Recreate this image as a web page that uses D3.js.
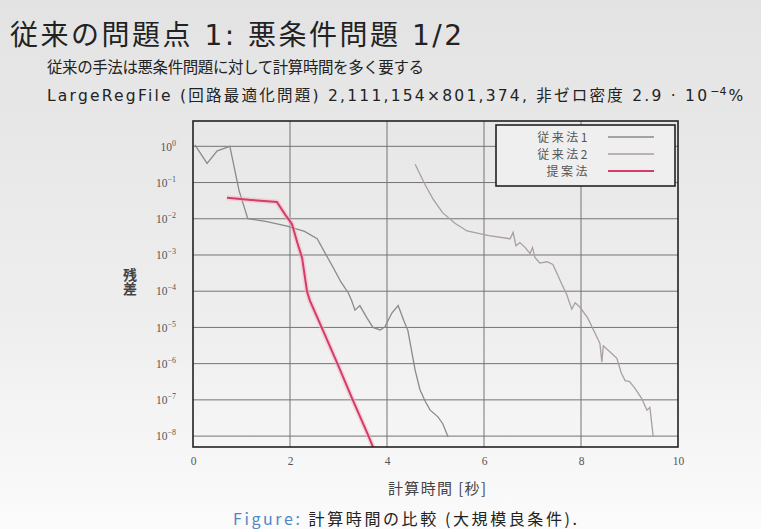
<!DOCTYPE html>
<html lang="ja">
<head>
<meta charset="UTF-8">
<script src="https://d3js.org/d3.v7.min.js"></script>
<title>悪条件問題</title>
<style>
  html, body { margin: 0; padding: 0; }
  body { width: 761px; height: 529px; overflow: hidden; }
  text { font-family: "Noto Sans CJK JP", "Noto Sans", sans-serif; }
  .wide { font-family: "DejaVu Sans", "Noto Sans CJK JP", sans-serif; }
</style>
</head>
<body>
<script>
// series data: [time (s), residual]
var conv1 = [[0.04, 1.1], [0.29, 0.34], [0.5, 0.75], [0.76, 1.0], [0.95, 0.06], [1.13, 0.01],
  [1.5, 0.0085], [1.94, 0.0063], [2.3, 0.0045], [2.56, 0.0028], [2.89, 0.00045], [3.05, 0.00018],
  [3.2, 0.000091], [3.27, 0.000055], [3.34, 0.00003], [3.44, 0.00004], [3.58, 0.000019],
  [3.71, 0.00001], [3.86, 0.0000085], [3.96, 0.0000105], [4.1, 0.000025], [4.23, 0.00004],
  [4.35, 0.000015], [4.43, 0.0000083], [4.58, 0.00000066], [4.68, 0.00000019],
  [4.79, 0.00000009], [4.89, 0.000000052], [5.05, 0.000000034], [5.15, 0.000000022],
  [5.26, 0.0000000095]];
var conv2 = [[4.58, 0.32], [4.78, 0.09], [4.95, 0.035], [5.15, 0.0145], [5.4, 0.0075],
  [5.65, 0.0046], [6.1, 0.0034], [6.54, 0.0028], [6.6, 0.0042], [6.66, 0.0018], [6.74, 0.0022],
  [6.85, 0.0016], [6.95, 0.0011], [7.0, 0.0016], [7.05, 0.00085], [7.15, 0.0006], [7.3, 0.00065],
  [7.42, 0.00055], [7.52, 0.00028], [7.6, 0.00016], [7.7, 0.000085], [7.81, 0.000032],
  [7.88, 0.000048], [7.98, 0.000036], [8.14, 0.000018], [8.3, 0.0000065], [8.39, 0.0000036],
  [8.43, 0.0000011], [8.46, 0.0000031], [8.6, 0.0000021], [8.74, 0.0000014],
  [8.83, 0.00000055], [8.91, 0.00000034], [9.0, 0.00000032], [9.11, 0.00000021],
  [9.25, 0.00000011], [9.36, 0.000000052], [9.42, 0.000000062], [9.49, 0.0000000095]];
var proposed = [[0.7, 0.038], [1.2, 0.033], [1.73, 0.029], [1.9, 0.013], [2.04, 0.0072],
  [2.15, 0.0022], [2.25, 0.00083], [2.35, 0.0001], [2.41, 0.000055], [2.7, 0.0000072],
  [3.0, 0.00000085], [3.3, 0.000000095], [3.6, 0.0000000115], [3.82, 0.0000000022]];

var seriesNames = ["従来法1", "従来法2", "提案法"];
var xTicks = [0, 2, 4, 6, 8, 10];
var yTicks = [1, 1e-1, 1e-2, 1e-3, 1e-4, 1e-5, 1e-6, 1e-7, 1e-8];
var yTickLabels = ["0", "−1", "−2", "−3", "−4", "−5", "−6", "−7", "−8"];

var width = 761, height = 529;
var plot = { left: 193, right: 678, top: 121, bottom: 447 };

var svg = d3.select("body").append("svg")
  .attr("width", width).attr("height", height);

var defs = svg.append("defs");
var grad = defs.append("linearGradient").attr("id", "bg")
  .attr("x1", 0).attr("y1", 0).attr("x2", 0).attr("y2", 1);
grad.append("stop").attr("offset", "0%").attr("stop-color", "#e3e3e3");
grad.append("stop").attr("offset", "60%").attr("stop-color", "#eeeeee");
grad.append("stop").attr("offset", "100%").attr("stop-color", "#fbfbfb");
svg.append("rect").attr("width", width).attr("height", height).attr("fill", "url(#bg)");

defs.append("clipPath").attr("id", "clip").append("rect")
  .attr("x", plot.left).attr("y", plot.top)
  .attr("width", plot.right - plot.left).attr("height", plot.bottom - plot.top);

// title block
svg.append("text").attr("class", "wide").attr("x", 10).attr("y", 45)
  .attr("font-size", 28).attr("fill", "#222")
  .attr("textLength", 452).attr("lengthAdjust", "spacing")
  .text("従来の問題点 1: 悪条件問題 1/2");
svg.append("text").attr("x", 47).attr("y", 73)
  .attr("font-size", 15.5).attr("fill", "#222")
  .attr("textLength", 377).attr("lengthAdjust", "spacing")
  .text("従来の手法は悪条件問題に対して計算時間を多く要する");
var line3 = svg.append("text").attr("class", "wide").attr("x", 47).attr("y", 101)
  .attr("font-size", 15.5).attr("fill", "#222");
line3.append("tspan").attr("textLength", 660).attr("lengthAdjust", "spacing")
  .text("LargeRegFile (回路最適化問題) 2,111,154×801,374, 非ゼロ密度 2.9 · 10");
line3.append("tspan").attr("dy", -6).attr("font-size", 11).attr("dx", 1).text("−4");
line3.append("tspan").attr("dy", 6).attr("dx", 2).text("%");

var x = d3.scaleLinear().domain([0, 10]).range([plot.left, plot.right]);
var y = d3.scaleLog().domain([5e-9, 5]).range([plot.bottom, plot.top]);

// grid
var g = svg.append("g");
g.selectAll(".gx").data(xTicks.slice(1, -1)).enter().append("line")
  .attr("x1", d => x(d)).attr("x2", d => x(d))
  .attr("y1", plot.top).attr("y2", plot.bottom)
  .attr("stroke", "#747474").attr("stroke-width", 1);
g.selectAll(".gy").data(yTicks).enter().append("line")
  .attr("x1", plot.left).attr("x2", plot.right)
  .attr("y1", d => y(d)).attr("y2", d => y(d))
  .attr("stroke", "#747474").attr("stroke-width", 1);

// axes labels via d3 axes
var xAxis = svg.append("g").attr("transform", "translate(0," + plot.bottom + ")")
  .call(d3.axisBottom(x).tickValues(xTicks).tickSize(0).tickPadding(10).tickFormat(d3.format("d")));
xAxis.select(".domain").remove();
xAxis.selectAll("text").attr("font-size", 11.5).attr("fill", "#555")
  .style("font-family", "'Liberation Serif', serif");

var yAxis = svg.append("g").attr("transform", "translate(" + plot.left + ",0)")
  .call(d3.axisLeft(y).tickValues(yTicks).tickSize(0).tickPadding(17).tickFormat(""));
yAxis.select(".domain").remove();
yAxis.selectAll(".tick").each(function (d, i) {
  var t = d3.select(this).select("text").text(null)
    .attr("font-size", 11.5).attr("fill", "#555")
    .style("font-family", "'Liberation Serif', serif");
  t.append("tspan").text("10");
  t.append("tspan").attr("dy", -5).attr("font-size", 8).text(yTickLabels[i]);
});

// series
var line = d3.line().x(d => x(d[0])).y(d => y(d[1]));
var lines = svg.append("g").attr("clip-path", "url(#clip)");
var colors = ["#8a8a8a", "#ab9ea2", "#d43d68"];
var widths = [1.3, 1.3, 2];
[conv1, conv2, proposed].forEach(function (s, i) {
  if (i == 2) {
    lines.append("path").attr("d", line(s)).attr("fill", "none")
      .attr("stroke", "#f4b4c6").attr("stroke-width", 5).attr("opacity", 0.5);
  }
  lines.append("path").attr("d", line(s)).attr("fill", "none")
    .attr("stroke", colors[i]).attr("stroke-width", widths[i]);
});

// border
svg.append("rect").attr("x", plot.left).attr("y", plot.top)
  .attr("width", plot.right - plot.left).attr("height", plot.bottom - plot.top)
  .attr("fill", "none").attr("stroke", "#222").attr("stroke-width", 1.6);

// legend
var lg = svg.append("g").attr("transform", "translate(496,125)");
lg.append("rect").attr("width", 179).attr("height", 61)
  .attr("fill", "#efefef").attr("stroke", "#222").attr("stroke-width", 1.6);
var items = lg.selectAll(".lg").data(seriesNames).enter().append("g")
  .attr("transform", (d, i) => "translate(0," + (12 + i * 17) + ")");
items.append("text").attr("x", 94).attr("y", 4.5).attr("text-anchor", "end")
  .attr("font-size", 12).attr("letter-spacing", 2.5).attr("fill", "#555").text(d => d);
items.append("line").attr("x1", 112).attr("x2", 158)
  .attr("stroke", (d, i) => colors[i]).attr("stroke-width", (d, i) => widths[i]);

// axis titles
svg.append("text").attr("x", 130).attr("y", 268)
  .attr("writing-mode", "vertical-rl")
  .attr("font-size", 14).attr("font-weight", "bold").attr("fill", "#444")
  .text("残差");

svg.append("text").attr("x", 437).attr("y", 494).attr("text-anchor", "middle")
  .attr("font-size", 15).attr("fill", "#444")
  .attr("textLength", 98).attr("lengthAdjust", "spacing").text("計算時間 [秒]");

var cap = svg.append("text").attr("x", 233).attr("y", 525)
  .attr("font-size", 16).attr("fill", "#222")
  .attr("textLength", 344).attr("lengthAdjust", "spacing");
cap.append("tspan").attr("fill", "#4f86c6").text("Figure: ");
cap.append("tspan").text("計算時間の比較 (大規模良条件).");
</script>
</body>
</html>
